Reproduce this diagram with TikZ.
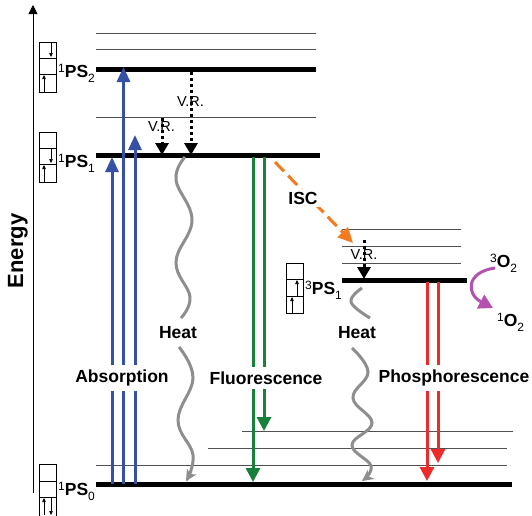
\documentclass[tikz,border=0pt]{standalone}
\usepackage{fontspec}
\setmainfont{Liberation Sans}
\usetikzlibrary{arrows.meta}
\definecolor{absblue}{HTML}{3550A5}
\definecolor{flgreen}{HTML}{17803A}
\definecolor{phred}{HTML}{EE2B2B}
\definecolor{iscorange}{HTML}{F47A20}
\definecolor{o2purple}{HTML}{B452B0}
\definecolor{heatgray}{HTML}{8E8E8E}
\definecolor{subgray}{HTML}{505050}
\newcommand{\statelbl}[3]{{\fontsize{12}{12}\selectfont\raisebox{5pt}{#1}}{\fontsize{17.5}{17.5}\selectfont\bfseries #2}{\fontsize{12}{12}\selectfont\raisebox{-5pt}{#3}}}
\begin{document}
\begin{tikzpicture}[x=1pt,y=-1pt,
  level/.style={line width=5pt},
  sublevel/.style={line width=1pt,draw=subgray},
  axisline/.style={line width=0.8pt,-{Triangle[length=9pt,width=9pt]}},
  absarrow/.style={draw=absblue,line width=3pt,-{Triangle[length=15pt,width=13pt]},fill=absblue},
  flarrow/.style={draw=flgreen,line width=3pt,-{Triangle[length=14pt,width=14pt]},fill=flgreen},
  pharrow/.style={draw=phred,line width=3pt,-{Triangle[length=14pt,width=14pt]},fill=phred},
  vrarrow/.style={line width=3pt,dash pattern=on 3pt off 3pt,-{Triangle[length=12pt,width=13pt]}},
  heatline/.style={draw=heatgray,line width=3pt,-{Stealth[length=11pt,width=11pt,inset=3pt]}},
  heatpiece/.style={draw=heatgray,line width=3pt},
  iscarrow/.style={draw=iscorange,line width=3pt,dash pattern=on 13pt off 6pt,-{Triangle[length=15pt,width=14pt]}},
  o2arrow/.style={draw=o2purple,line width=3pt,-{Triangle[length=14pt,width=15pt]}},
  spinbox/.style={draw,line width=0.7pt},
  spinarrow/.style={line width=0.6pt,-{Triangle[length=4pt,width=3.5pt]}},
  statelabel/.style={anchor=base west,inner sep=0pt},
  proclabel/.style={font=\fontsize{17.5}{17.5}\selectfont\bfseries,fill=white,inner sep=5pt},
  vrlabel/.style={font=\fontsize{14.5}{14.5}\selectfont,inner sep=0pt}
]
\useasboundingbox (0,0) rectangle (532,515);

% energy axis
\coordinate (axb) at (33,493);
\coordinate (axt) at (33,5);
\draw[axisline] (axb) -- (axt);
\node[rotate=90,font=\fontsize{22}{22}\selectfont\bfseries] (energy) at (18,251) {Energy};

% sublevels
\draw[sublevel] (96,33) coordinate (u1a) -- (316,33) coordinate (u1b);
\draw[sublevel] (96,49) coordinate (u2a) -- (316,49) coordinate (u2b);
\draw[sublevel] (96,117) coordinate (u3a) -- (316,117) coordinate (u3b);
\draw[sublevel] (342,229) coordinate (t1a) -- (461,229) coordinate (t1b);
\draw[sublevel] (342,246) coordinate (t2a) -- (461,246) coordinate (t2b);
\draw[sublevel] (342,263) coordinate (t3a) -- (461,263) coordinate (t3b);
\draw[sublevel] (242,431) coordinate (g1a) -- (513,431) coordinate (g1b);
\draw[sublevel] (208,448) coordinate (g2a) -- (507,448) coordinate (g2b);
\draw[sublevel] (96,465) coordinate (g3a) -- (507,465) coordinate (g3b);

% main levels
\draw[level] (96,69) coordinate (s2a) -- (316,69) coordinate (s2b);
\draw[level] (96,155) coordinate (s1a) -- (320,155) coordinate (s1b);
\draw[level] (342,280) coordinate (ta) -- (467,280) coordinate (tb);
\draw[level] (96,484) coordinate (s0a) -- (512,484) coordinate (s0b);

% state labels
\node[statelabel] (lS2) at (58,77) {\statelbl{1}{PS}{2}};
\node[statelabel] (lS1) at (58,167) {\statelbl{1}{PS}{1}};
\node[statelabel] (lT1) at (305,294) {\statelbl{3}{PS}{1}};
\node[statelabel] (lS0) at (58,495) {\statelbl{1}{PS}{0}};

% spin boxes
\draw[spinbox] (39,42) rectangle (56,92);
\draw[spinbox] (39,58) -- (56,58) (39,74) -- (56,74);
\draw[spinarrow] (51,43) coordinate (b2d1) -- (51,57) coordinate (b2d2);
\draw[spinarrow] (44,92) coordinate (b2u1) -- (44,75) coordinate (b2u2);

\draw[spinbox] (39,132) rectangle (56,182);
\draw[spinbox] (39,148) -- (56,148) (39,164) -- (56,164);
\draw[spinarrow] (51,148) coordinate (b1d1) -- (51,163) coordinate (b1d2);
\draw[spinarrow] (44,182) coordinate (b1u1) -- (44,165) coordinate (b1u2);

\draw[spinbox] (286,263) rectangle (303,313);
\draw[spinbox] (286,279) -- (303,279) (286,296) -- (303,296);
\draw[spinarrow] (297,296) coordinate (btu1) -- (297,280) coordinate (btu2);
\draw[spinarrow] (292,313) coordinate (btv1) -- (292,297) coordinate (btv2);

\draw[spinbox] (39,520) -- (39,464) -- (56,464) -- (56,520);
\draw[spinbox] (39,481) -- (56,481) (39,497) -- (56,497);
\draw[spinarrow] (44,515) coordinate (b0u1) -- (44,498) coordinate (b0u2);
\draw[spinarrow] (51,498) coordinate (b0d1) -- (51,515) coordinate (b0d2);

% absorption arrows
\coordinate (a1s) at (112,484); \coordinate (a1e) at (112,157);
\coordinate (a2s) at (123.5,484); \coordinate (a2e) at (123.5,67);
\coordinate (a3s) at (135,484); \coordinate (a3e) at (135,135);
\draw[absarrow] (a1s) -- (a1e);
\draw[absarrow] (a2s) -- (a2e);
\draw[absarrow] (a3s) -- (a3e);

% fluorescence
\coordinate (f1s) at (253,157); \coordinate (f1e) at (253,482);
\coordinate (f2s) at (264,157); \coordinate (f2e) at (264,431);
\draw[flarrow] (f1s) -- (f1e);
\draw[flarrow] (f2s) -- (f2e);

% phosphorescence
\coordinate (p1s) at (427,282); \coordinate (p1e) at (427,481);
\coordinate (p2s) at (438,282); \coordinate (p2e) at (438,463);
\draw[pharrow] (p1s) -- (p1e);
\draw[pharrow] (p2s) -- (p2e);

% process labels (over the arrows)
\node[proclabel] (abs) at (122,378) {Absorption};
\node[proclabel] (flu) at (266,378) {Fluorescence};
\node[proclabel] (pho) at (454,378) {Phosphorescence};
\node[proclabel,inner sep=2pt] (heat1) at (178,333) {Heat};
\node[proclabel,inner sep=2pt] (heat2) at (357,333) {Heat};

% vibrational relaxation
\coordinate (v1s) at (191,72); \coordinate (v1e) at (191,155);
\coordinate (v2s) at (162,118); \coordinate (v2e) at (162,155);
\coordinate (v3s) at (364,240); \coordinate (v3e) at (364,279);
\draw[vrarrow] (v1s) -- (v1e);
\draw[vrarrow] (v2s) -- (v2e);
\draw[vrarrow] (v3s) -- (v3e);
\node[vrlabel] (vr1) at (190.5,102) {V.R.};
\node[vrlabel] (vr2) at (161.5,127) {V.R.};
\node[vrlabel] (vr3) at (364,255) {V.R.};

% heat (wavy)
\coordinate (h1s) at (185,157);
\coordinate (h1e) at (181,318);
\coordinate (h1b) at (179,347);
\coordinate (h1t) at (186,481);
\draw[heatpiece] plot[smooth,tension=0.7] coordinates {(h1s) (176,180) (192,220) (176,262) (190,297) (h1e)};
\draw[heatline] plot[smooth,tension=0.7] coordinates {(h1b) (193,378) (178,420) (193,455) (h1t)};
\coordinate (h2s) at (362,288);
\coordinate (h2e) at (370,318);
\coordinate (h2b) at (352,348);
\coordinate (h2t) at (362,481);
\draw[heatpiece] plot[smooth,tension=0.7] coordinates {(h2s) (351,302) (h2e)};
\draw[heatline] plot[smooth,tension=0.7] coordinates {(h2b) (368,372) (353,398) (372,423) (352,445) (371,466) (h2t)};

% ISC
\coordinate (iscs) at (275,162);
\coordinate (isce) at (353,243);
\draw[iscarrow] (iscs) -- (isce);
\node[proclabel,inner sep=3pt] (isc) at (303,198) {ISC};

% oxygen
\node[statelabel] (o3) at (490,267) {\statelbl{3}{O}{2}};
\node[statelabel] (o1) at (497,326) {\statelbl{1}{O}{2}};
\coordinate (o2s) at (495,268);
\coordinate (o2e) at (493,308);
\draw[o2arrow] (o2s) .. controls (466,272) and (466,294) .. (o2e);
\end{tikzpicture}
\end{document}
